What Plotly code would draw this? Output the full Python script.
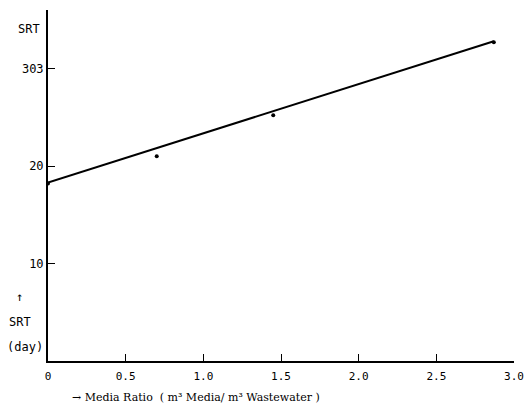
import plotly.graph_objects as go

# Data
media_ratio = [0.0, 0.70, 1.45, 2.87]
srt_days = [18.2, 21.0, 25.2, 32.7]
fit_x = [0.0, 2.87]
fit_y = [18.3, 32.8]

x_tick_vals = [0, 0.5, 1.0, 1.5, 2.0, 2.5, 3.0]
x_tick_text = ["0", "0.5", "1.0", "1.5", "2.0", "2.5", "3.0"]
y_tick_vals = [10, 20, 30]
y_tick_text = ["10", "20", "303"]

FONT = "DejaVu Sans Mono"
W, H = 525, 404
L, R, T, B = 48, 11, 10, 43

fig = go.Figure()
fig.add_trace(go.Scatter(x=fit_x, y=fit_y, mode="lines",
                         line=dict(color="black", width=2), showlegend=False))
fig.add_trace(go.Scatter(x=media_ratio, y=srt_days, mode="markers",
                         marker=dict(color="black", size=4), showlegend=False))

tf = dict(size=11, family=FONT, color="black")
fig.update_layout(
    width=W, height=H,
    margin=dict(l=L, r=R, t=T, b=B, autoexpand=False),
    paper_bgcolor="white", plot_bgcolor="white",
    font=dict(family=FONT, size=12, color="black"),
    xaxis=dict(range=[0, 3.0], tickvals=x_tick_vals, ticktext=x_tick_text,
               ticks="inside", ticklen=7, tickwidth=1.3, tickcolor="black",
               showline=True, linecolor="black", linewidth=2,
               ticklabeloverflow="allow", ticklabelstandoff=4,
               showgrid=False, zeroline=False, tickfont=tf),
    yaxis=dict(range=[0, 36], tickvals=y_tick_vals, ticktext=y_tick_text,
               ticks="inside", ticklen=7, tickwidth=1.3, tickcolor="black",
               showline=True, linecolor="black", linewidth=2,
               ticklabeloverflow="allow",
               showgrid=False, zeroline=False, tickfont=dict(size=12, family=FONT)),
)

pw, ph = W - L - R, H - T - B


def add_px_text(text, px, py, size=12, family=FONT, xanchor="center"):
    fig.add_annotation(text=text, x=(px - L) / pw, y=1 - (py - T) / ph,
                       xref="paper", yref="paper", showarrow=False,
                       xanchor=xanchor, yanchor="middle",
                       font=dict(size=size, family=family, color="black"))


add_px_text("SRT", 29, 29)
add_px_text("↑", 19, 297)
add_px_text("SRT", 20, 322)
add_px_text("(day)", 25, 347)
add_px_text("→ Media Ratio  ( m³ Media/ m³ Wastewater )", 70, 397,
            size=11, family="DejaVu Serif", xanchor="left")

fig.write_html("out.html", config={"displayModeBar": False},
               post_script="document.body.style.margin='0';")
